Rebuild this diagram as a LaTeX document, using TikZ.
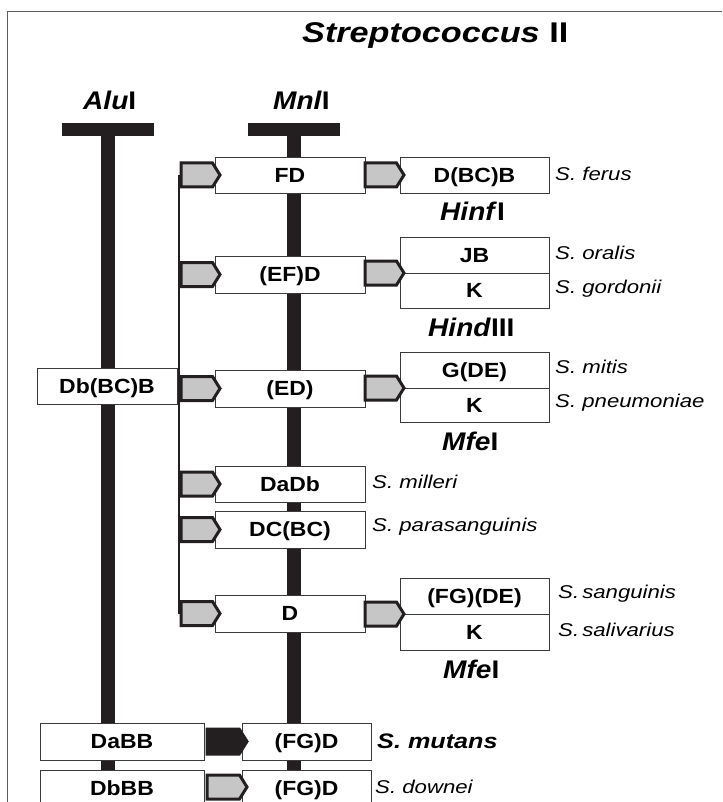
\documentclass[tikz,border=0pt]{standalone}
\usepackage{fontspec}
\setmainfont{Liberation Sans}[FakeStretch=1.2]
\newfontfamily\boxfam{Liberation Sans}[FakeStretch=1.12]
\newfontfamily\enzfam{Liberation Sans}[FakeStretch=1.1]
\usetikzlibrary{shapes.symbols}
\definecolor{ink}{HTML}{231F20}
\definecolor{tabgray}{HTML}{C6C6C6}
\definecolor{framegray}{HTML}{5A5A5A}
\definecolor{boxline}{HTML}{3A3A3A}
\newcommand\titlefont{\fontsize{28.5}{30}\selectfont\bfseries}
\newcommand\enzfont{\enzfam\fontsize{25.5}{27}\selectfont\bfseries}
\newcommand\boxfont{\boxfam\fontsize{20.5}{22}\selectfont\bfseries}
\newcommand\spfont{\fontsize{18.5}{20}\selectfont\itshape}
\begin{document}
\begin{tikzpicture}[x=1pt,y=-1pt,
  frameline/.style={draw=framegray,line width=1.5pt},
  stem/.style={draw=ink,line width=14pt},
  crossbar/.style={fill=ink,rectangle,inner sep=0pt,minimum width=92pt,minimum height=13pt},
  branch/.style={draw=ink,line width=2pt},
  box/.style={draw=boxline,line width=0.9pt,fill=white,rectangle,inner sep=0pt,
    minimum height=36pt,text height=14.7pt,text depth=0pt,font=\boxfont},
  colB/.style={box,minimum width=150pt},
  colC/.style={box,minimum width=149pt},
  colA/.style={box,minimum width=164pt},
  colD/.style={box,minimum width=129pt},
  tabshape/.style={signal,signal to=east,signal pointer angle=116,inner sep=0pt,
    minimum width=39pt,minimum height=24pt,anchor=west,line width=3pt,line join=miter},
  graytab/.style={tabshape,draw=ink,fill=tabgray},
  blacktab/.style={tabshape,draw=ink,fill=ink},
  enz/.style={anchor=base west,inner sep=0pt,font=\enzfont},
  species/.style={anchor=west,inner sep=0pt,font=\spfont},
]
\useasboundingbox (0,0) rectangle (722,802);
% frame
\coordinate (ftl) at (7.5,11.5);
\coordinate (ftr) at (722,11.5);
\coordinate (fbl) at (7.5,802);
\draw[frameline] (ftr) -- (ftl) -- (fbl);

% title
\node[anchor=base west,inner sep=0pt,font=\titlefont] (title) at (302,43)
  {\textit{Streptococcus} II};

% enzyme labels
\node[enz] (alulab) at (83,110) {\textit{Alu}I};
\node[enz] (mnllab) at (273,110) {\textit{Mnl}I};

% T bars
\node[crossbar] (alubar) at (107.5,129.5) {};
\node[crossbar] (mnlbar) at (294,129.5) {};
\coordinate (aluend) at (107.5,802);
\coordinate (mnlend) at (294,802);
\draw[stem] (alubar.center) -- (aluend);
\draw[stem] (mnlbar.center) -- (mnlend);

% branch line
\coordinate (brtop) at (178.5,175);
\coordinate (brbot) at (178.5,613.5);
\draw[branch] (brtop) -- (brbot);

% column B boxes
\node[colB] (fd)   at (290,175)   {FD};
\node[colB,minimum height=37pt] (efd)  at (290,274.5) {(EF)D};
\node[colB,minimum height=37pt] (ed)   at (290,388.5) {(ED)};
\node[colB] (dadb) at (290,484)   {DaDb};
\node[colB,minimum height=37pt] (dcbc) at (290,529.5) {DC(BC)};
\node[colB,minimum height=37pt] (d)    at (290,613.5) {D};

% column C boxes
\node[colC] (dbcb) at (474.5,175)   {D(BC)B};
\node[colC] (jb)   at (474.5,255)   {JB};
\node[colC,minimum height=35pt] (k1)   at (474.5,290.5) {K};
\node[colC] (gde)  at (474.5,370)   {G(DE)};
\node[colC,minimum height=34pt] (k2)   at (474.5,405)   {K};
\node[colC] (fgde) at (474.5,596)   {(FG)(DE)};
\node[colC] (k3)   at (474.5,632)   {K};

% left column
\node[box,minimum width=140pt] (dbbcb) at (107,386) {Db(BC)B};
\node[colA,minimum height=37pt] (dabb) at (122,741.5) {DaBB};
\node[colD,minimum height=37pt] (fgda) at (306.5,741.5) {(FG)D};
\node[colA] (dbbb) at (122,788) {DbBB};
\node[colD] (fgdb) at (306.5,788) {(FG)D};

% tabs
\node[graytab] (t1) at (179.5,175)   {};
\node[graytab] (t2) at (179.5,274.5) {};
\node[graytab] (t3) at (179.5,388.5) {};
\node[graytab] (t4) at (179.5,484)   {};
\node[graytab] (t5) at (179.5,529.5) {};
\node[graytab] (t6) at (179.5,613.5) {};
\node[graytab] (r1) at (363.5,175)   {};
\node[graytab] (r2) at (363.5,273)   {};
\node[graytab] (r3) at (363.5,388)   {};
\node[graytab] (r4) at (363.5,614)   {};
\node[blacktab,minimum height=25pt,minimum width=40pt] (b1) at (205.5,741.5) {};
\node[graytab,minimum height=24pt,minimum width=40pt] (b2) at (205.5,787) {};

% enzyme labels on the right
\node[enz] (hinf)  at (440,221) {\textit{Hinf}I};
\node[enz] (hind)  at (428,336) {\textit{Hind}III};
\node[enz] (mfea)  at (442,450) {\textit{Mfe}I};
\node[enz] (mfeb)  at (443,678) {\textit{Mfe}I};

% species
\node[species] (sferus)  at (555,174)   {S. ferus};
\node[species] (soral)   at (555,253)   {S. oralis};
\node[species] (sgord)   at (555,289)   {S. gordonii};
\node[species] (smitis)  at (555,367)   {S. mitis};
\node[species] (spneu)   at (555,403)   {S. pneumoniae};
\node[species] (smill)   at (372,482)   {S. milleri};
\node[species] (spara)   at (372,527)   {S. parasanguinis};
\node[species] (ssang)   at (558,594)   {S.\,sanguinis};
\node[species] (ssali)   at (558,630)   {S.\,salivarius};
\node[species,font=\fontsize{21}{23}\selectfont\bfseries\itshape] (smut) at (377,741) {S. mutans};
\node[species] (sdown)   at (375,787)   {S. downei};
\end{tikzpicture}
\end{document}
